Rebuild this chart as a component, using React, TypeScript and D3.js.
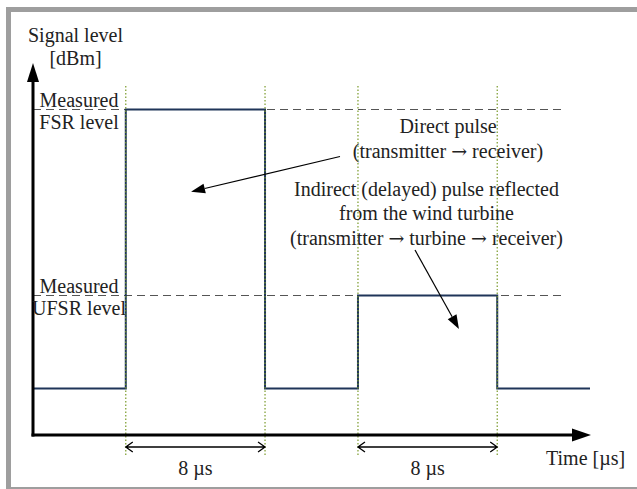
// Dependencies
import React, { useRef, useEffect } from "react";
import * as d3 from "d3";

// Time axis (µs) and level axis (arbitrary dBm units)
const timeDomain = [0, 32];
const levelDomain = [0, 10];

// Signal steps: level holds from each time to the next
const stepTimes = [0, 5.33, 13.33, 18.67, 26.67, 32];
const stepLevels = [1.25, 8.75, 1.25, 3.75, 1.25, 1.25];

// Pulses
const pulseStarts = [5.33, 18.67];
const pulseWidth = 8;
const pulseLabels = ["8 µs", "8 µs"];

// Measured reference levels
const refNames = ["FSR", "UFSR"];
const refValues = [8.75, 3.75];
const refLineEnd = 30.45;

const FONT = "'Liberation Serif', 'Times New Roman', serif";
const ARROW_FONT = "'DejaVu Serif', serif";

const App: React.FC = () => {
  const svgRef = useRef<SVGSVGElement | null>(null);
  const width = 637;
  const height = 489;

  useEffect(() => {
    if (!svgRef.current) return;
    const root = d3.select(svgRef.current);
    root.selectAll("*").remove();

    // Scales
    const x = d3.scaleLinear().domain(timeDomain).range([33, 590]);
    const y = d3.scaleLinear().domain(levelDomain).range([435, 63]);
    const x0 = x(0);
    const y0 = y(0);

    // Frame (cut off at the right edge)
    root
      .append("rect")
      .attr("x", 6)
      .attr("y", 7)
      .attr("width", width - 6)
      .attr("height", height - 7)
      .attr("fill", "#9e9e9e");
    root
      .append("rect")
      .attr("x", 11)
      .attr("y", 12)
      .attr("width", width - 11)
      .attr("height", 475)
      .attr("fill", "#fff");

    const svg = root.append("g");

    // Dashed reference lines
    svg
      .append("g")
      .selectAll("line")
      .data(refValues)
      .enter()
      .append("line")
      .attr("x1", x0)
      .attr("x2", x(refLineEnd))
      .attr("y1", (d) => y(d))
      .attr("y2", (d) => y(d))
      .attr("stroke", "#555")
      .attr("stroke-width", 1.2)
      .attr("stroke-dasharray", "8,5");

    // Signal
    const pts = stepTimes.map((t, i) => [t, stepLevels[i]] as [number, number]);
    const line = d3
      .line<[number, number]>()
      .x((d) => x(d[0]))
      .y((d) => y(d[1]))
      .curve(d3.curveStepAfter);
    svg
      .append("path")
      .attr("d", line(pts))
      .attr("fill", "none")
      .attr("stroke", "#1f3559")
      .attr("stroke-width", 2);

    // Dotted edge markers
    const edges = pulseStarts.flatMap((s) => [s, s + pulseWidth]);
    svg
      .append("g")
      .selectAll("line")
      .data(edges)
      .enter()
      .append("line")
      .attr("x1", (d) => x(d))
      .attr("x2", (d) => x(d))
      .attr("y1", y(9.38))
      .attr("y2", y0 + 22)
      .attr("stroke", "#7a9a2a")
      .attr("stroke-width", 1.2)
      .attr("stroke-dasharray", "1.5,2");

    // Axes
    svg
      .append("line")
      .attr("x1", x0)
      .attr("x2", x0)
      .attr("y1", y0 + 1.5)
      .attr("y2", y(9.5))
      .attr("stroke", "#000")
      .attr("stroke-width", 3);
    svg
      .append("line")
      .attr("x1", x0 - 1.5)
      .attr("x2", x(31))
      .attr("y1", y0)
      .attr("y2", y0)
      .attr("stroke", "#000")
      .attr("stroke-width", 3);
    const yTop = y(10);
    svg
      .append("path")
      .attr("d", `M${x0},${yTop} L${x0 - 6},${yTop + 19} L${x0 + 6},${yTop + 19} Z`)
      .attr("fill", "#000");
    const xEnd = x(32) + 1;
    svg
      .append("path")
      .attr("d", `M${xEnd},${y0} L${xEnd - 19},${y0 - 6.5} L${xEnd - 19},${y0 + 6.5} Z`)
      .attr("fill", "#000");

    // Text helper: "→" is drawn in a font that has a full-width arrow
    const text = (tx: number, ty: number, s: string, anchor = "middle") => {
      const t = svg
        .append("text")
        .attr("x", tx)
        .attr("y", ty)
        .attr("text-anchor", anchor)
        .attr("font-family", FONT)
        .attr("font-size", 20)
        .attr("fill", "#222");
      s.split(/(→)/).forEach((part) => {
        if (!part) return;
        const sp = t.append("tspan").text(part);
        if (part === "→") sp.attr("font-family", ARROW_FONT).attr("font-size", 19);
      });
      return t;
    };

    // Axis titles
    text(75.5, 42, "Signal level");
    text(75.5, 65, "[dBm]");
    text(546, 465, "Time [µs]", "start");

    // Reference level labels
    refValues.forEach((v, i) => {
      text(79, y(v) - 3, "Measured");
      text(79, y(v) + 19, `${refNames[i]} level`);
    });

    // Pulse width dimensions
    const dimY = y0 + 12;
    pulseStarts.forEach((s, i) => {
      const a = x(s);
      const b = x(s + pulseWidth);
      svg
        .append("path")
        .attr(
          "d",
          `M${a},${dimY} L${b},${dimY} M${a + 7},${dimY - 5} L${a},${dimY} L${a + 7},${dimY + 5} M${b - 7},${dimY - 5} L${b},${dimY} L${b - 7},${dimY + 5}`
        )
        .attr("fill", "none")
        .attr("stroke", "#000")
        .attr("stroke-width", 1.3);
      text((a + b) / 2, y0 + 40, pulseLabels[i]);
    });

    // Annotations
    text(448, 133, "Direct pulse");
    text(448, 158, "(transmitter → receiver)");
    text(426.5, 196, "Indirect (delayed) pulse reflected");
    text(426.5, 220, "from the wind turbine");
    text(426.5, 245, "(transmitter → turbine → receiver)");

    const pointer = (fx: number, fy: number, tx: number, ty: number) => {
      const ang = Math.atan2(ty - fy, tx - fx);
      const len = 14;
      const hw = 5;
      const bx = tx - len * Math.cos(ang);
      const by = ty - len * Math.sin(ang);
      svg
        .append("line")
        .attr("x1", fx)
        .attr("y1", fy)
        .attr("x2", bx)
        .attr("y2", by)
        .attr("stroke", "#000")
        .attr("stroke-width", 1.2);
      const px = -Math.sin(ang) * hw;
      const py = Math.cos(ang) * hw;
      svg
        .append("path")
        .attr("d", `M${tx},${ty} L${bx + px},${by + py} L${bx - px},${by - py} Z`)
        .attr("fill", "#000");
    };
    // Direct pulse pointer into first pulse, indirect into second
    pointer(340, 156.5, x(5.33 + 3.75), y(6.54));
    pointer(415, 250, x(18.67 + 5.8), y(2.85));
  }, []);

  return (
    <svg
      ref={svgRef}
      width={width}
      height={height}
      style={{ position: "absolute", left: 0, top: 0, display: "block" }}
    />
  );
};

export default App;
